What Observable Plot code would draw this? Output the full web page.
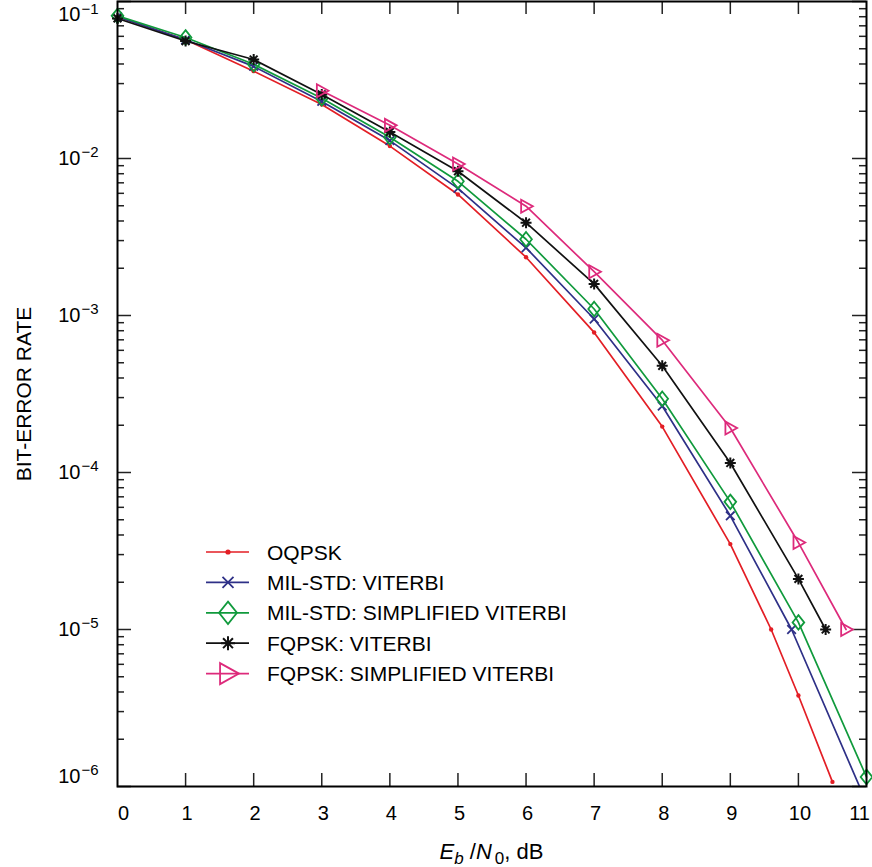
<!DOCTYPE html>
<html><head><meta charset="utf-8">
<script src="https://cdn.jsdelivr.net/npm/d3@7"></script>
<script src="https://cdn.jsdelivr.net/npm/@observablehq/plot@0.6"></script>
<style>
html,body{margin:0;padding:0;background:#fff;overflow:hidden;}
#chart svg{display:block;}
</style></head><body><div id="chart"></div>
<script>
// ---- data ----
const xTicks = [0,1,2,3,4,5,6,7,8,9,10,11];
const yMajor = [1e-1,1e-2,1e-3,1e-4,1e-5,1e-6];
const yExp = ["−1","−2","−3","−4","−5","−6"];
const yLabel = "BIT-ERROR RATE";
const legendLabels = ["OQPSK","MIL-STD: VITERBI","MIL-STD: SIMPLIFIED VITERBI","FQPSK: VITERBI","FQPSK: SIMPLIFIED VITERBI"];
const colors = ["#e31e25","#2e3087","#109a3c","#111111","#dd2a7b"];

const oqpskX = [0,1,2,3,4,5,6,7,8,9,9.6,10,10.5];
const oqpskY = [0.08,0.057,0.036,0.0221,0.012,0.0059,0.00235,7.8e-4,1.96e-4,3.5e-5,1.0e-5,3.8e-6,1.07e-6];
const milVitX = [0,1,2,3,4,5,6,7,8,9,9.9,11];
const milVitY = [0.08,0.057,0.0386,0.0231,0.013,0.00645,0.0027,9.5e-4,2.65e-4,5.3e-5,1.0e-5,7.9e-7];
const milSimX = [0,1,2,3,4,5,6,7,8,9,10,11];
const milSimY = [0.081,0.059,0.0398,0.0242,0.01365,0.00716,0.00306,0.0011,2.95e-4,6.5e-5,1.11e-5,1.15e-6];
const fqVitX = [0,1,2,3,4,5,6,7,8,9,10,10.4];
const fqVitY = [0.078,0.056,0.0427,0.0256,0.01476,0.0083,0.0039,0.00159,4.78e-4,1.15e-4,2.1e-5,1.0e-5];
const fqSimX = [3,4,5,6,7,8,9,10,10.7];
const fqSimY = [0.027,0.01626,0.00923,0.00497,0.0019,6.96e-4,1.92e-4,3.58e-5,1.0e-5];

// ---- layout ----
const W = 872, H = 867, mL = 117, mR = 6, mT = 1, mB = 81;
const fw = W - mL - mR, fh = H - mT - mB;
const FONT = "'Liberation Sans', Arial, Helvetica, sans-serif";

// minor ticks 2..9 x 10^k
const yMinor = [];
for (let k = -6; k <= -2; k++) for (let m = 2; m <= 9; m++) yMinor.push(m * Math.pow(10, k));

// ---- custom symbols ----
const R = s => Math.sqrt(s / Math.PI);
const symDiamond = {draw(c, s){const r = R(s), w = r*0.8; c.moveTo(0,-r); c.lineTo(w,0); c.lineTo(0,r); c.lineTo(-w,0); c.closePath();}};
const symTri = {draw(c, s){const r = R(s), w = 1.8*r; c.moveTo(-0.42*w,-r); c.lineTo(0.58*w,0); c.lineTo(-0.42*w,r); c.closePath();}};
const symStar = {draw(c, s){const r = R(s); const d = r*Math.SQRT1_2;
  c.moveTo(-r,0); c.lineTo(r,0); c.moveTo(0,-r); c.lineTo(0,r);
  c.moveTo(-d,-d); c.lineTo(d,d); c.moveTo(-d,d); c.lineTo(d,-d);}};
const symTimes = {draw(c, s){const r = R(s); c.moveTo(-r,-r); c.lineTo(r,r); c.moveTo(-r,r); c.lineTo(r,-r);}};

const series = [
  {xs: oqpskX, ys: oqpskY, sym: d3.symbolCircle, r: 2.2, lr: 2.6, filled: true, sw: 0},
  {xs: milVitX, ys: milVitY, sym: symTimes, r: 4.3, lr: 5.5, sw: 1.8, clip: true},
  {xs: milSimX, ys: milSimY, sym: symDiamond, r: 7.3, lr: 11.2, sw: 1.8},
  {xs: fqVitX, ys: fqVitY, sym: symStar, r: 5.5, lr: 7, sw: 2},
  {xs: fqSimX, ys: fqSimY, sym: symTri, r: 6.5, lr: 10.5, sw: 1.8}
];

const marks = [];
// tick marks (inward, all four sides)
const tk = {stroke: "#222", strokeWidth: 1.5};
marks.push(Plot.ruleX(xTicks.slice(1, -1), {x: d => d, insetTop: fh - 13, ...tk}));
marks.push(Plot.ruleX(xTicks.slice(1, -1), {x: d => d, insetBottom: fh - 13, ...tk}));
marks.push(Plot.ruleY(yMajor, {y: d => d, insetRight: fw - 14, ...tk}));
marks.push(Plot.ruleY(yMajor, {y: d => d, insetLeft: fw - 14, ...tk}));
marks.push(Plot.ruleY(yMinor, {y: d => d, insetRight: fw - 7, ...tk}));
marks.push(Plot.ruleY(yMinor, {y: d => d, insetLeft: fw - 7, ...tk}));

// series
series.forEach((s, i) => {
  const data = s.xs.map((x, j) => ({x, y: s.ys[j]}));
  marks.push(Plot.line(data, {x: "x", y: "y", stroke: colors[i], strokeWidth: 1.7, clip: !!s.clip}));
  marks.push(Plot.dot(data, {x: "x", y: "y", r: s.r, symbol: s.sym,
    stroke: s.filled ? "none" : colors[i], fill: s.filled ? colors[i] : "none",
    strokeWidth: s.sw, clip: !!s.clip}));
});

marks.push(Plot.frame({stroke: "#000", strokeWidth: 2}));

// x tick labels
const xt = {x: d => d, text: d => String(d), frameAnchor: "bottom", lineAnchor: "top", dy: 19, fontSize: 20, fill: "#000"};
marks.push(Plot.text(xTicks.slice(0, 1), {...xt, dx: 6}));
marks.push(Plot.text(xTicks.slice(1, -1), {...xt, dx: 1.5}));
marks.push(Plot.text(xTicks.slice(-1), {...xt, dx: -7}));

// y tick labels: "10" + superscript exponent
const yGroups = [[0, 1, 13.5], [1, 5, 0], [5, 6, -10]];
yGroups.forEach(([a, b, off]) => {
  const idx = d3.range(a, b);
  marks.push(Plot.text(idx, {y: i => yMajor[i], text: () => "10", frameAnchor: "left", textAnchor: "end", dx: -37, dy: off, fontSize: 20, fill: "#000"}));
  marks.push(Plot.text(idx, {y: i => yMajor[i], text: i => yExp[i], frameAnchor: "left", textAnchor: "start", dx: -36, dy: off - 6, fontSize: 15, fill: "#000"}));
});

// y axis title
marks.push(Plot.text([yLabel], {text: d => d, frameAnchor: "left", textAnchor: "middle", dx: -93, rotate: -90, fontSize: 21, fill: "#000"}));

const svg = Plot.plot({
  width: W, height: H,
  marginLeft: mL, marginRight: mR, marginTop: mT, marginBottom: mB,
  x: {domain: [0, 11], axis: null},
  y: {type: "log", domain: [1e-6, 1e-1], axis: null},
  style: {fontFamily: FONT, fontSize: "20px", background: "#fff", overflow: "visible"},
  marks
});

// x axis title with italic + subscripts
const xs = svg.scale("x");
const root = d3.select(svg);
const xt2 = root.append("text")
  .attr("x", xs.apply(5.5)).attr("y", 859)
  .attr("text-anchor", "middle").attr("font-family", FONT).attr("font-size", 22).attr("fill", "#000");
xt2.append("tspan").attr("font-style", "italic").text("E");
xt2.append("tspan").attr("font-style", "italic").attr("font-size", 17).attr("dy", 5).text("b");
xt2.append("tspan").attr("dy", -5).text(" /");
xt2.append("tspan").attr("font-style", "italic").text("N");
xt2.append("tspan").attr("font-size", 17).attr("dy", 5).attr("dx", 3).text("0");
xt2.append("tspan").attr("dy", -5).text(", dB");

// legend (inside plot area)
const lg = root.append("g").attr("font-family", FONT).attr("font-size", 21).attr("text-anchor", "start");
const ly0 = 552, lstep = 30.4;
series.forEach((s, i) => {
  const cy = ly0 + i * lstep;
  lg.append("line").attr("x1", 206).attr("x2", 249).attr("y1", cy).attr("y2", cy)
    .attr("stroke", colors[i]).attr("stroke-width", 1.7);
  lg.append("path").attr("transform", `translate(228,${cy})`)
    .attr("d", d3.symbol(s.sym, Math.PI * s.lr * s.lr)())
    .attr("fill", s.filled ? colors[i] : "none")
    .attr("stroke", s.filled ? "none" : colors[i])
    .attr("stroke-width", s.sw);
  lg.append("text").attr("x", 267).attr("y", cy).attr("dy", "0.36em").attr("text-anchor", "start").attr("fill", "#000").text(legendLabels[i]);
});

document.getElementById("chart").appendChild(svg);
</script>
</body></html>
